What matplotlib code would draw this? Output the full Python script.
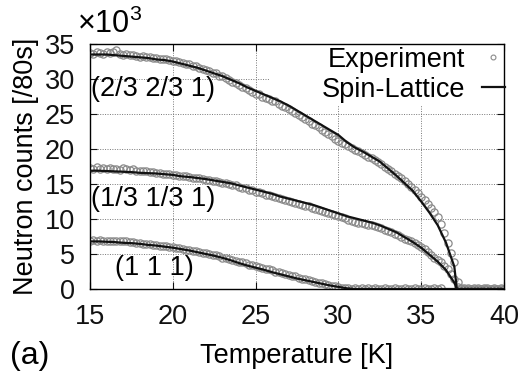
import numpy as np
import matplotlib
matplotlib.use("Agg")
import matplotlib.pyplot as plt
from matplotlib.lines import Line2D
from matplotlib.patches import Rectangle

plt.rcParams['font.family'] = ['Liberation Sans', 'DejaVu Sans']
plt.rcParams['mathtext.fontset'] = 'custom'
plt.rcParams['mathtext.rm'] = 'Liberation Sans'

# ---------------- data (counts in units of 10^3 per 80 s) ----------------
# Spin-Lattice calculation
T_line = [15.0, 15.5, 16.0, 16.5, 17.0, 17.5, 18.0, 18.5, 19.0, 19.5,
          20.0, 20.5, 21.0, 21.5, 22.0, 22.5, 23.0, 23.5, 24.0, 24.5,
          25.0, 25.5, 26.0, 26.5, 27.0, 27.5, 28.0, 28.5, 29.0, 29.5,
          30.0, 30.5, 31.0, 31.5, 32.0, 32.5, 33.0, 33.5, 34.0, 34.5,
          35.0, 35.5, 36.0, 36.5, 37.0, 37.15, 38.0, 39.0, 40.0]
line_231 = [33.5, 33.5, 33.5, 33.4, 33.3, 33.2, 33.1, 33.0, 32.8, 32.7,
            32.5, 32.2, 31.9, 31.6, 31.2, 30.8, 30.4, 29.9, 29.4, 28.8,
            28.3, 27.8, 27.3, 26.8, 26.2, 25.5, 24.8, 24.1, 23.4, 22.7,
            22.0, 21.0, 20.2, 19.6, 18.9, 18.2, 17.2, 16.2, 15.1, 14.0,
            12.5, 10.9, 9.1, 6.6, 3.2, 0.0, 0.0, 0.0, 0.0]
line_131 = [16.9, 16.9, 16.85, 16.8, 16.75, 16.7, 16.6, 16.55, 16.5, 16.4,
            16.3, 16.1, 16.0, 15.85, 15.7, 15.5, 15.3, 15.1, 14.8, 14.5,
            14.2, 13.9, 13.6, 13.2, 12.9, 12.6, 12.3, 12.0, 11.6, 11.2,
            10.8, 10.4, 10.1, 9.8, 9.5, 9.1, 8.6, 8.1, 7.4, 6.7,
            5.9, 4.9, 3.9, 2.7, 0.9, 0.0, 0.0, 0.0, 0.0]
line_111 = [6.8, 6.8, 6.75, 6.7, 6.6, 6.55, 6.45, 6.3, 6.2, 6.05,
            5.9, 5.7, 5.5, 5.25, 5.0, 4.75, 4.45, 4.1, 3.7, 3.35,
            3.05, 2.75, 2.4, 2.1, 1.8, 1.5, 1.25, 1.0, 0.75, 0.5,
            0.3, 0.1, 0.0, 0.0, 0.0, 0.0, 0.0, 0.0, 0.0, 0.0,
            0.0, 0.0, 0.0, 0.0, 0.0, 0.0, 0.0, 0.0, 0.0]

# Experiment (0.2 K steps)
T_exp = np.round(np.arange(15.0, 40.001, 0.2), 1)
exp_231 = [33.7, 33.6, 33.8, 33.7, 33.6, 33.8, 33.7, 33.9, 34.1, 33.6,
           33.5, 33.6, 33.4, 33.5, 33.3, 33.2, 33.3, 33.1, 33.2, 33.0,
           33.0, 32.9, 32.8, 32.9, 32.7, 32.6, 32.6, 32.4, 32.3, 32.2,
           32.1, 31.9, 31.8, 31.6, 31.5, 31.3, 31.1, 30.9, 30.8, 30.5,
           30.4, 30.1, 29.9, 29.6, 29.4, 29.1, 28.8, 28.7, 28.4, 28.2,
           27.9, 27.8, 27.5, 27.3, 27.1, 26.9, 26.8, 26.4, 26.2, 26.0,
           25.7, 25.5, 25.2, 24.9, 24.6, 24.3, 24.0, 23.6, 23.4, 23.1,
           22.7, 22.5, 22.1, 21.9, 21.5, 21.2, 20.9, 20.7, 20.4, 20.2,
           19.9, 19.7, 19.5, 19.2, 18.9, 18.7, 18.4, 18.2, 17.8, 17.5,
           17.2, 16.8, 16.5, 16.2, 15.8, 15.4, 15.0, 14.6, 14.2, 13.7,
           13.2, 12.7, 12.2, 11.6, 11.0, 10.3, 9.3, 8.0, 6.6, 5.2,
           3.8, 1.0, 0.1, 0.0, 0.1, 0.0, 0.1, 0.0, 0.0, 0.1,
           0.0, 0.0, 0.1, 0.0, 0.0, 0.0]
exp_131 = [17.3, 17.2, 17.4, 17.2, 17.3, 17.2, 17.3, 17.1, 17.2, 17.0,
           17.3, 17.1, 17.0, 17.1, 16.9, 16.9, 16.8, 16.8, 16.7, 16.7,
           16.6, 16.6, 16.5, 16.5, 16.4, 16.3, 16.3, 16.2, 16.1, 16.1,
           16.0, 15.9, 15.8, 15.8, 15.7, 15.6, 15.6, 15.5, 15.4, 15.3,
           15.2, 15.1, 15.0, 14.9, 14.8, 14.6, 14.5, 14.4, 14.2, 14.1,
           13.9, 13.8, 13.7, 13.5, 13.4, 13.3, 13.1, 13.0, 12.8, 12.7,
           12.6, 12.4, 12.3, 12.1, 12.0, 11.9, 11.8, 11.6, 11.5, 11.3,
           11.2, 11.0, 10.9, 10.7, 10.6, 10.4, 10.3, 10.2, 9.8, 9.7,
           9.6, 9.5, 9.4, 9.3, 9.2, 9.1, 9.0, 8.8, 8.7, 8.5,
           8.3, 8.1, 7.9, 7.7, 7.5, 7.2, 7.0, 6.8, 6.6, 6.3,
           6.0, 5.7, 5.3, 4.9, 4.5, 4.2, 3.8, 3.3, 2.8, 2.2,
           1.4, 0.3, 0.0, 0.1, 0.0, 0.0, 0.0, 0.1, 0.0, 0.0,
           0.1, 0.0, 0.0, 0.0, 0.1, 0.0]
exp_111 = [6.9, 7.0, 6.9, 7.0, 6.9, 6.9, 6.8, 6.9, 6.8, 6.8,
           6.9, 6.8, 6.7, 6.7, 6.6, 6.6, 6.5, 6.5, 6.4, 6.3,
           6.3, 6.2, 6.2, 6.1, 6.0, 6.0, 5.9, 5.8, 5.7, 5.6,
           5.6, 5.5, 5.4, 5.3, 5.2, 5.1, 5.0, 4.9, 4.8, 4.7,
           4.5, 4.4, 4.3, 4.2, 4.0, 3.9, 3.8, 3.7, 3.5, 3.4,
           3.3, 3.2, 3.0, 2.9, 2.8, 2.7, 2.5, 2.4, 2.3, 2.2,
           2.0, 1.9, 1.8, 1.6, 1.5, 1.4, 1.3, 1.2, 1.0, 0.9,
           0.8, 0.7, 0.6, 0.5, 0.4, 0.3, 0.2, 0.1, 0.1, 0.0,
           0.1, 0.0, 0.1, 0.0, 0.1, 0.0, 0.1, 0.0, 0.0, 0.1,
           0.0, 0.0, 0.1, 0.0, 0.0, 0.1, 0.0, 0.0, 0.1, 0.0,
           0.0, 0.1, 0.0, 0.0, 0.1, 0.0, 0.1]

labels = ["(2/3 2/3 1)", "(1/3 1/3 1)", "(1 1 1)"]
x_ticks = [15, 20, 25, 30, 35, 40]
y_ticks = [0, 5, 10, 15, 20, 25, 30, 35]

FS = 19.5

# ---------------- figure ----------------
fig = plt.figure(figsize=(5.23, 3.79), dpi=100)
ax = fig.add_axes([90/523, 90/379, 414/523, 245/379])

pt_color = '#8a8a8a'
for ys in (exp_231, exp_131):
    ax.plot(T_exp, ys, ls='none', marker='o', ms=5.2, mfc='none',
            mec=pt_color, mew=0.9, zorder=2)
ax.plot(T_exp[:len(exp_111)], exp_111, ls='none', marker='o', ms=5.2,
        mfc='none', mec=pt_color, mew=0.9, zorder=2)

for ys in (line_231, line_131, line_111):
    ax.plot(T_line, ys, color='#111111', lw=1.6, zorder=3)

ax.set_xlim(15, 40)
ax.set_ylim(0, 35)
ax.set_xticks(x_ticks)
ax.set_yticks(y_ticks)
ax.tick_params(direction='in', length=5, width=0.8, top=True, right=True,
               labelsize=FS, colors='#111111')
ax.tick_params(axis='y', pad=11)
ax.tick_params(axis='x', pad=11)
ax.grid(True, ls=(0, (1, 1.5)), color='#777777', lw=0.7)
ax.set_axisbelow(True)
for s in ax.spines.values():
    s.set_linewidth(1.0)

# white area behind the key
ax.add_patch(Rectangle((0.435, 0.75), 0.565, 0.25, transform=ax.transAxes,
                       facecolor='white', edgecolor='none', zorder=1))

ax.set_xlabel("Temperature [K]", fontsize=FS, labelpad=9)
ax.set_ylabel("Neutron counts [/80s]", fontsize=FS, labelpad=4)

ax.text(15.05, 28.5, labels[0], fontsize=FS, va='center', ha='left', zorder=4)
ax.text(15.05, 12.9, labels[1], fontsize=FS, va='center', ha='left', zorder=4)
ax.text(16.5, 3.0, labels[2], fontsize=FS, va='center', ha='left', zorder=4)

fig.text(77/523, 1 - 33/379, r'$\mathregular{\times10^{3}}$',
         fontsize=22, ha='left', va='baseline')
fig.text(10/523, 1 - 356/379, "(a)", fontsize=23, ha='left', va='center')

handles = [Line2D([], [], ls='none', marker='o', ms=3.5, mfc='none',
                  mec=pt_color, mew=0.8),
           Line2D([], [], color='#111111', lw=1.6)]
leg = ax.legend(handles, ["Experiment", "Spin-Lattice"], loc='upper right',
                bbox_to_anchor=(1.008, 1.0), frameon=False, markerfirst=False,
                fontsize=FS, handlelength=0.85, handletextpad=0.6,
                labelspacing=0.15, borderaxespad=0.0, borderpad=0.1)
for t in leg.get_texts():
    t.set_ha('right')

fig.savefig("out.png", dpi=100)
